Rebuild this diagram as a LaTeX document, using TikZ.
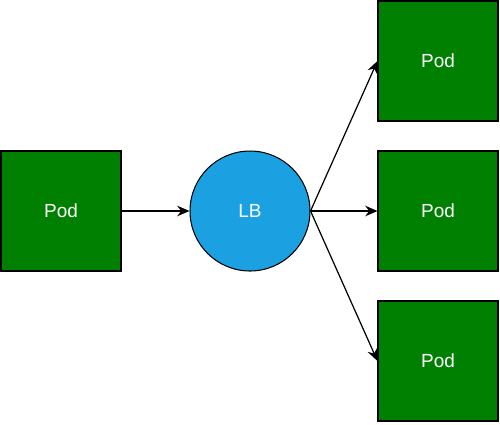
\documentclass[tikz,border=0pt]{standalone}
\usepackage{fontspec}
\setmainfont{Liberation Sans}
\usetikzlibrary{arrows.meta}
\definecolor{podgreen}{HTML}{008000}
\definecolor{lbblue}{HTML}{1BA1E2}
\tikzset{
   pod/.style={draw=black, fill=podgreen, text=white, minimum size=2.4cm, inner sep=0pt, line width=0.6pt},
   lb/.style={draw=black, fill=lbblue, text=white, circle, minimum size=2.4cm, inner sep=0pt, line width=0.6pt},
   link/.style={-{Stealth[length=7pt,width=6pt]}, line width=0.7pt}
}
\begin{document}
\begin{tikzpicture}[x=0.02cm, y=-0.02cm, font=\fontsize{10.8}{13}\selectfont]
   \useasboundingbox (0,0) rectangle (500,424);
   \def \Pods {
      p0/61/211,
      p1/438/61,
      p2/438/211,
      p3/438/361}
   \foreach \u / \x / \y in \Pods {
      \node[pod] (\u) at (\x, \y){Pod};
   }
   \node[lb] (lb) at (250, 211){LB};
   \path[draw, link] (p0) -- (lb);
   \foreach \u in {p1, p2, p3} {
      \path[draw, link] (lb.east) -- (\u.west);
   }
\end{tikzpicture}
\end{document}
